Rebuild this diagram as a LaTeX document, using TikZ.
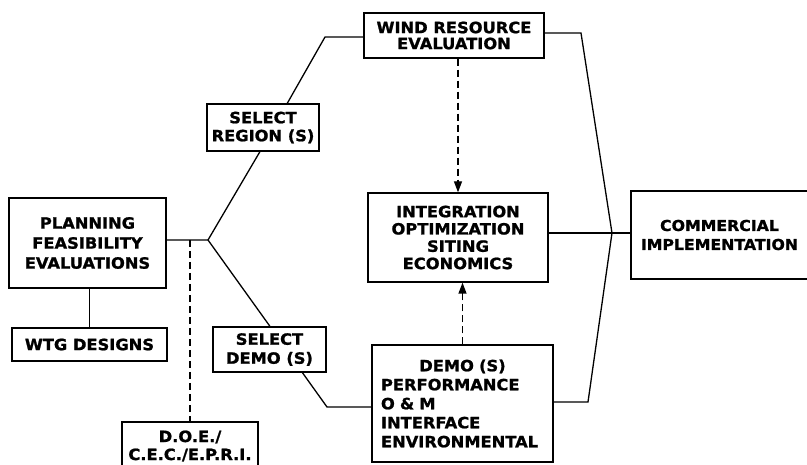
\documentclass[tikz,border=0pt]{standalone}
\usepackage{fontspec}
\setmainfont{DejaVu Sans}
\newfontfamily\lblfont{DejaVu Sans Bold}[FakeStretch=1.05,FakeBold=1.2]
\usetikzlibrary{arrows.meta,calc}
\begin{document}
\begin{tikzpicture}[x=1pt,y=-1pt,
  box/.style={draw,line width=1.3pt,inner sep=0pt,align=center,
    font=\lblfont\fontsize{15.5}{18}\selectfont},
  link/.style={line width=1.3pt},
  dlink/.style={line width=1.3pt,dash pattern=on 7pt off 4pt},
  tip/.style={-{Triangle[length=11pt,width=8pt]}}]
\useasboundingbox (0,0) rectangle (807,465);

\node[box,minimum width=157pt,minimum height=90pt,font=\lblfont\fontsize{15.5}{20}\selectfont] (planning) at (87.5,243) {PLANNING\\FEASIBILITY\\EVALUATIONS};
\node[box,minimum width=155pt,minimum height=33pt] (wtg) at (89.5,344.5) {WTG DESIGNS};
\node[box,minimum width=136pt,minimum height=48pt] (doe) at (190,446) {D.O.E./\\C.E.C./E.P.R.I.};
\node[box,minimum width=112pt,minimum height=47pt] (selreg) at (263,127.5) {SELECT\\REGION (S)};
\node[box,minimum width=113pt,minimum height=45pt,font=\lblfont\fontsize{15.5}{19}\selectfont] (seldemo) at (269.5,349.5) {SELECT\\DEMO (S)};
\node[box,minimum width=180pt,minimum height=45pt,font=\lblfont\fontsize{15.5}{16}\selectfont] (wind) at (454,35.5) {WIND RESOURCE\\EVALUATION};
\node[box,minimum width=180pt,minimum height=89pt,font=\lblfont\fontsize{15.5}{17.3}\selectfont] (integ) at (458,237.5) {INTEGRATION\\OPTIMIZATION\\SITING\\ECONOMICS};
\node[box,minimum width=181pt,minimum height=117pt,text width=163pt,align=left,font=\lblfont\fontsize{15.5}{19}\selectfont] (demo) at (462.5,403.5) {\makebox[\linewidth][c]{DEMO (S)}\\PERFORMANCE\\O \& M\\INTERFACE\\ENVIRONMENTAL};
\node[box,minimum width=177pt,minimum height=88pt,font=\lblfont\fontsize{15}{19}\selectfont] (comm) at (719.5,235) {COMMERCIAL\\IMPLEMENTATION};

\coordinate (j1) at (208,240);
\coordinate (j2) at (612,233);
\coordinate (k1) at (325,37);
\coordinate (k2) at (327,407);
\coordinate (k3) at (581,33);
\coordinate (k4) at (588,402);
\coordinate (d1) at (190,240);

\draw[link] (planning.east |- j1) -- (j1) -- ($(selreg.south west)!0.473!(selreg.south east)$);
\draw[link] ($(selreg.north west)!0.714!(selreg.north east)$) -- (k1) -- (wind.west |- k1);
\draw[link] (j1) -- ($(seldemo.north west)!0.504!(seldemo.north east)$);
\draw[link] ($(seldemo.south west)!0.788!(seldemo.south east)$) -- (k2) -- (demo.west |- k2);
\draw[link] (wtg.north |- planning.south) -- (wtg.north);
\draw[dlink] (d1) -- (d1 |- doe.north);
\draw[dlink,tip] (integ.north |- wind.south) -- (integ.north);
\draw[dlink,tip] (demo.north) -- (demo.north |- integ.south);
\draw[link] (wind.east |- k3) -- (k3) -- (j2);
\draw[link] (integ.east |- j2) -- (j2) -- (comm.west |- j2);
\draw[link] (demo.east |- k4) -- (k4) -- (j2);
\end{tikzpicture}
\end{document}
